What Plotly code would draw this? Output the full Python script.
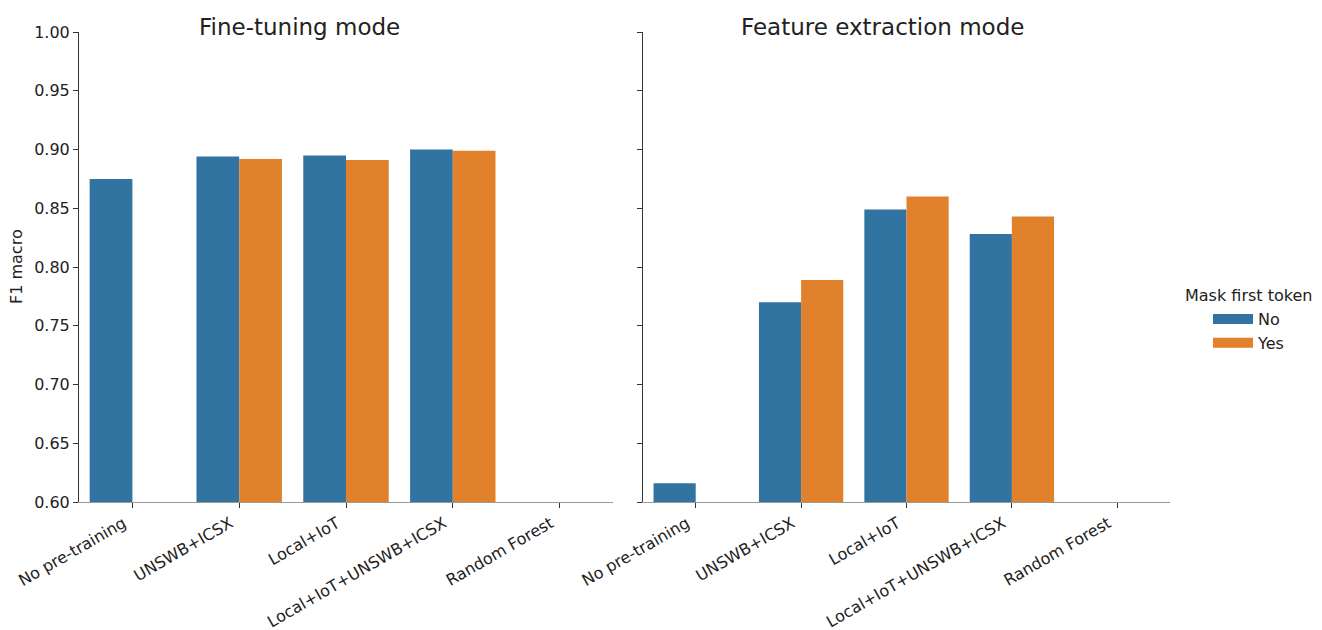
import plotly.graph_objects as go

categories = ["No pre-training", "UNSWB+ICSX", "Local+IoT", "Local+IoT+UNSWB+ICSX", "Random Forest"]
hue_labels = ["No", "Yes"]
legend_title = "Mask first token"

finetune_no = [0.875, 0.894, 0.895, 0.900, None]
finetune_yes = [None, 0.892, 0.891, 0.899, None]
feature_no = [0.616, 0.770, 0.849, 0.828, None]
feature_yes = [None, 0.789, 0.860, 0.843, None]

titles = ["Fine-tuning mode", "Feature extraction mode"]
y_ticks = [0.60, 0.65, 0.70, 0.75, 0.80, 0.85, 0.90, 0.95, 1.00]

BLUE = "#3274a1"
ORANGE = "#e1812c"
FONT = "DejaVu Sans"

# page body adds an 8px margin, so the figure is drawn 8px smaller and shifted
OFF = 8
W, H = 1322 - OFF, 630 - OFF
ML = 79 - OFF
MT = 32 - OFF
MB = H - (502 - OFF)
MR = W - (1170 - OFF)
PW = W - ML - MR
PH = H - MT - MB

def px_x(x):
    return (x - OFF - ML) / PW

def px_y(y):
    return (H - MB - (y - OFF)) / PH

fig = go.Figure()

fig.add_trace(go.Bar(x=categories, y=finetune_no, name=hue_labels[0], marker_color=BLUE,
                     marker_line_width=0, xaxis="x", yaxis="y", legendgroup="No", showlegend=False))
fig.add_trace(go.Bar(x=categories, y=finetune_yes, name=hue_labels[1], marker_color=ORANGE,
                     marker_line_width=0, xaxis="x", yaxis="y", legendgroup="Yes", showlegend=False))
fig.add_trace(go.Bar(x=categories, y=feature_no, name=hue_labels[0], marker_color=BLUE,
                     marker_line_width=0, xaxis="x2", yaxis="y2", legendgroup="No", showlegend=False))
fig.add_trace(go.Bar(x=categories, y=feature_yes, name=hue_labels[1], marker_color=ORANGE,
                     marker_line_width=0, xaxis="x2", yaxis="y2", legendgroup="Yes", showlegend=False))

# legend entries drawn as wide patches (seaborn style)
for name, color in zip(hue_labels, [BLUE, ORANGE]):
    fig.add_trace(go.Scatter(x=[None], y=[None], mode="lines", name=name, legendgroup=name,
                             line=dict(color=color, width=11), showlegend=True,
                             xaxis="x2", yaxis="y2", hoverinfo="skip"))

xcommon = dict(type="category", range=[-0.5, 4.5], showline=True, linecolor="#9a9a9a", linewidth=1,
               ticks="outside", ticklen=5, tickcolor="#333", tickwidth=1, tickangle=-30,
               ticklabelshift=-9,
               tickfont=dict(family=FONT, size=16, color="#222"), showgrid=False, zeroline=False,
               categoryorder="array", categoryarray=categories, automargin=False)
ycommon = dict(range=[0.6, 1.0], tickvals=y_ticks, tickformat=".2f", showline=True, linecolor="#333",
               linewidth=1, ticks="outside", ticklen=5, tickcolor="#333", tickwidth=1,
               tickfont=dict(family=FONT, size=16, color="#222"), showgrid=False, zeroline=False,
               automargin=False)

fig.update_layout(
    template="none",
    width=W, height=H,
    margin=dict(l=ML, r=MR, t=MT, b=MB, autoexpand=False),
    paper_bgcolor="white", plot_bgcolor="white",
    barmode="group", bargap=0.2, bargroupgap=0,
    font=dict(family=FONT, size=16, color="#222"),
    xaxis=dict(domain=[0, px_x(613)], anchor="y", **xcommon),
    yaxis=dict(domain=[0, 1], anchor="x", showticklabels=True, **ycommon),
    xaxis2=dict(domain=[px_x(643), 1], anchor="y2", **xcommon),
    yaxis2=dict(domain=[0, 1], anchor="x2", showticklabels=False, matches="y", **ycommon),
    legend=dict(x=px_x(1208), y=px_y(302), xanchor="left", yanchor="top",
                font=dict(family=FONT, size=16), bgcolor="rgba(0,0,0,0)", tracegroupgap=0,
                itemwidth=40),
    showlegend=True,
)

fig.add_annotation(text=legend_title, x=px_x(1249), y=px_y(296), xref="paper", yref="paper",
                   xanchor="center", yanchor="middle", showarrow=False,
                   font=dict(family=FONT, size=16, color="#222"))
fig.add_annotation(text=titles[0], x=px_x(299), y=px_y(27), xref="paper", yref="paper",
                   xanchor="center", yanchor="middle", showarrow=False,
                   font=dict(family=FONT, size=23, color="#222"))
fig.add_annotation(text=titles[1], x=px_x(882), y=px_y(27), xref="paper", yref="paper",
                   xanchor="center", yanchor="middle", showarrow=False,
                   font=dict(family=FONT, size=23, color="#222"))
fig.add_annotation(text="F1 macro", x=px_x(16), y=0.5, xref="paper", yref="paper",
                   xanchor="center", yanchor="middle", showarrow=False, textangle=-90,
                   font=dict(family=FONT, size=16, color="#222"))

fig.write_html("out.html")
